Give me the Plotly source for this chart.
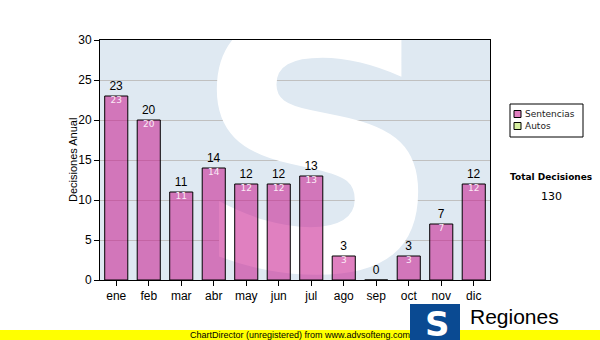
import plotly.graph_objects as go

months = ["ene", "feb", "mar", "abr", "may", "jun", "jul", "ago", "sep", "oct", "nov", "dic"]
sentencias = [23, 20, 11, 14, 12, 12, 13, 3, 0, 3, 7, 12]
autos = [None] * 12
series_names = ["Sentencias", "Autos"]
series_colors = ["#e07fc0", "#d6efa0"]
total = 130
yticks = [0, 5, 10, 15, 20, 25, 30]

xs = list(range(len(months)))

fig = go.Figure()

# watermark S on the base subplot (drawn underneath the overlay subplot)
fig.add_trace(go.Scatter(
    x=[6.2], y=[12.2], mode="text", text=["S"], xaxis="x", yaxis="y",
    textfont=dict(family="DejaVu Sans", size=350, color="white", weight="bold"),
    textposition="middle center", showlegend=False, hoverinfo="skip", cliponaxis=True))

fig.add_trace(go.Bar(
    x=xs, y=sentencias, name=series_names[0], width=0.71, xaxis="x2", yaxis="y2",
    marker=dict(color="rgba(200,28,143,0.56)", line=dict(color="black", width=1)),
    text=[str(v) for v in sentencias], textposition="outside",
    textfont=dict(family="Arial", size=12, color="black"), cliponaxis=False,
    showlegend=False))

fig.add_trace(go.Bar(
    x=xs, y=autos, name=series_names[1], width=0.71, xaxis="x2", yaxis="y2",
    marker=dict(color=series_colors[1], line=dict(color="black", width=1)),
    showlegend=False))

fig.add_trace(go.Scatter(
    x=xs, y=sentencias, mode="text", xaxis="x2", yaxis="y2",
    text=[str(v) if v > 0 else "" for v in sentencias],
    textposition="bottom center",
    textfont=dict(family="DejaVu Sans", size=9, color="#fbeaf6"),
    showlegend=False, hoverinfo="skip"))

fig.update_layout(
    width=600, height=340, barmode="overlay",
    margin=dict(l=100, r=110, t=40, b=60, autoexpand=False),
    paper_bgcolor="white", plot_bgcolor="#dfe9f2",
    showlegend=False,
    font=dict(family="Arial", size=12, color="black"),
    xaxis=dict(range=[-0.5, 11.5], visible=False, fixedrange=True),
    yaxis=dict(range=[0, 30], visible=False, fixedrange=True),
    xaxis2=dict(overlaying="x", range=[-0.5, 11.5], tickvals=xs, ticktext=months,
                ticks="outside", ticklen=5, tickcolor="black", side="bottom",
                showline=True, linecolor="black", linewidth=1, mirror=True,
                showgrid=False, zeroline=False, fixedrange=True,
                tickfont=dict(family="Arial", size=12, color="black")),
    yaxis2=dict(overlaying="y", range=[0, 30], tickvals=yticks, side="left",
                ticks="outside", ticklen=5, tickcolor="black",
                showline=True, linecolor="black", linewidth=1, mirror=True,
                showgrid=True, gridcolor="#c0c0c0", gridwidth=1, zeroline=False,
                fixedrange=True,
                tickfont=dict(family="Arial", size=12, color="black")),
)

def px_x(p):
    return (p - 100) / 390.0

def px_y(p):
    return (280 - p) / 240.0

shapes = [
    # footer band
    dict(type="rect", xref="paper", yref="paper", x0=px_x(0), x1=px_x(600),
         y0=px_y(340), y1=px_y(330), fillcolor="#ffff00", line=dict(width=0), layer="above"),
    # logo box
    dict(type="rect", xref="paper", yref="paper", x0=px_x(410), x1=px_x(460),
         y0=px_y(340), y1=px_y(304), fillcolor="#0a4a92", line=dict(width=0), layer="above"),
    # legend box
    dict(type="rect", xref="paper", yref="paper", x0=px_x(510), x1=px_x(583),
         y0=px_y(137), y1=px_y(104), fillcolor="white", line=dict(color="black", width=1), layer="above"),
]
for i, (nm, col) in enumerate(zip(series_names, series_colors)):
    yc = 114 + 12 * i
    shapes.append(dict(type="rect", xref="paper", yref="paper", x0=px_x(514), x1=px_x(521),
                       y0=px_y(yc + 3.5), y1=px_y(yc - 3.5), fillcolor=col,
                       line=dict(color="black", width=1), layer="above"))
    fig.add_annotation(xref="paper", yref="paper", x=px_x(523), y=px_y(yc),
                       xanchor="left", yanchor="middle", text=nm, showarrow=False,
                       font=dict(family="DejaVu Sans", size=9, color="#222"))
fig.update_layout(shapes=shapes)

fig.add_annotation(xref="paper", yref="paper", x=px_x(73), y=px_y(160),
                   xanchor="center", yanchor="middle", textangle=-90,
                   text="Decisiones Anual", showarrow=False,
                   font=dict(family="Arial", size=11, color="black"))
fig.add_annotation(xref="paper", yref="paper", x=px_x(551), y=px_y(177),
                   xanchor="center", yanchor="middle",
                   text="<b>Total Decisiones</b>", showarrow=False,
                   font=dict(family="DejaVu Sans", size=9, color="black"))
fig.add_annotation(xref="paper", yref="paper", x=px_x(551), y=px_y(196),
                   xanchor="center", yanchor="middle",
                   text=str(total), showarrow=False,
                   font=dict(family="DejaVu Sans", size=11, color="black"))
fig.add_annotation(xref="paper", yref="paper", x=px_x(300), y=px_y(335),
                   xanchor="center", yanchor="middle",
                   text="ChartDirector (unregistered) from www.advsofteng.com", showarrow=False,
                   font=dict(family="Arial", size=9, color="black"))
fig.add_annotation(xref="paper", yref="paper", x=px_x(437), y=px_y(324),
                   xanchor="center", yanchor="middle",
                   text="<b>S</b>", showarrow=False,
                   font=dict(family="DejaVu Sans", size=34, color="white"))
fig.add_annotation(xref="paper", yref="paper", x=px_x(468), y=px_y(316),
                   xanchor="left", yanchor="middle", text="Regiones", showarrow=False,
                   font=dict(family="Arial", size=21, color="black"))

fig.write_html("out.html", config={"displayModeBar": False},
               post_script="document.body.style.margin='0';")
